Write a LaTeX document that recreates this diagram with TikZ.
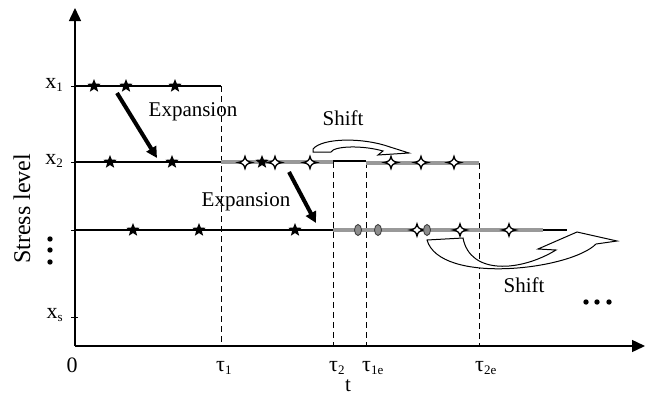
\documentclass[tikz,border=0pt]{standalone}
\usepackage{fontspec}
\setmainfont{Liberation Serif}
\usetikzlibrary{arrows.meta,shapes.geometric}
\tikzset{
  axis/.style={line width=1.4pt,-{Triangle[length=13pt,width=12pt]}},
  blk/.style={line width=2pt},
  gry/.style={line width=4pt,color=black!40},
  dsh/.style={line width=0.9pt,dash pattern=on 6pt off 4pt},
  exparrow/.style={line width=4pt,-{Triangle[length=11pt,width=11pt]}},
  starmk/.style={star,star points=5,star point ratio=2.3,fill=black,inner sep=0pt,minimum size=14pt},
  ellmk/.style={ellipse,draw=black!75,fill=black!45,line width=0.9pt,inner sep=0pt,minimum width=7pt,minimum height=11pt},
  shiftarrow/.style={draw,fill=white,line width=1pt,line join=miter},
  lbl/.style={font=\fontsize{21}{25}\selectfont,inner sep=0pt},
  slbl/.style={font=\fontsize{22}{26}\selectfont,inner sep=0pt},
  dmd/.pic={\draw[fill=white,line width=1.3pt] (-7,0) .. controls (-2.2,-0.9) and (-0.9,-2.2) .. (0,-6) .. controls (0.9,-2.2) and (2.2,-0.9) .. (7,0) .. controls (2.2,0.9) and (0.9,2.2) .. (0,6) .. controls (-0.9,2.2) and (-2.2,0.9) .. (-7,0) -- cycle;}
}
\newcommand{\sbs}[1]{\raisebox{-0.35ex}{\fontsize{13}{13}\selectfont #1}}
\begin{document}
\begin{tikzpicture}[x=1pt,y=-1pt]
\useasboundingbox (0,0) rectangle (645,399);
% coordinates
\coordinate (O) at (75,346);
\coordinate (ytop) at (75,8);
\coordinate (xend) at (645,346);
\coordinate (a1) at (75,86);   \coordinate (t1top) at (221,86);
\coordinate (a2) at (75,162);  \coordinate (t1mid) at (221,162);
\coordinate (t2top) at (333,162); \coordinate (b2s) at (333,161); \coordinate (b2e) at (366,161);
\coordinate (t1etop) at (366,162); \coordinate (t2etop) at (479,163);
\coordinate (a3) at (75,230); \coordinate (t2mid) at (333,230);
\coordinate (g3e) at (543,230); \coordinate (k3e) at (567,230);
\coordinate (t1b) at (221,346); \coordinate (t2b) at (333,346);
\coordinate (t1eb) at (366,346); \coordinate (t2eb) at (479,346);
\coordinate (tk1) at (71,86);  \coordinate (tk1e) at (78,86);
\coordinate (tk2) at (71,162); \coordinate (tk2e) at (78,162);
\coordinate (tk3) at (71,230); \coordinate (tk3e) at (78,230);
\coordinate (tks) at (71,317); \coordinate (tkse) at (78,317);

% dashed verticals
\draw[dsh] (t1top) -- (t1b);
\draw[dsh] (t2top) -- (t2b);
\draw[dsh] (t1etop) -- (t1eb);
\draw[dsh] (t2etop) -- (t2eb);

% level lines
\draw[blk] (a1) -- (t1top);
\draw[blk] (a2) -- (t1mid);
\draw[gry] (t1mid) -- (t2top);
\draw[blk] (b2s) -- (b2e);
\draw[gry] (t1etop |- t2etop) -- (t2etop);
\draw[blk] (a3) -- (t2mid);
\draw[gry] (t2mid) -- (g3e);
\draw[blk] (g3e) -- (k3e);

% axes
\draw[axis] (O) -- (ytop);
\draw[axis] (O) -- (xend);
\draw[line width=1pt] (tk1) -- (tk1e) (tk2) -- (tk2e) (tk3) -- (tk3e) (tks) -- (tkse);

% stars
\foreach \x in {94,126,175} \node[starmk] at (\x,86) {};
\foreach \x in {110,172,262} \node[starmk] at (\x,162) {};
\foreach \x in {133,199,295} \node[starmk] at (\x,230) {};

% diamonds
\foreach \x in {245,275,310,391,421,454} \pic at (\x,162.5) {dmd};
\foreach \x in {417,460,509} \pic at (\x,230) {dmd};

% ellipses
\foreach \x in {358,378,427} \node[ellmk] at (\x,230) {};

% expansion arrows
\coordinate (e1s) at (117,93); \coordinate (e1e) at (157,158);
\coordinate (e2s) at (289,172); \coordinate (e2e) at (316,223);
\draw[exparrow] (e1s) -- (e1e);
\draw[exparrow] (e2s) -- (e2e);
\node[lbl] (exp1) at (193,112) {Expansion};
\node[lbl] (exp2) at (246,202) {Expansion};

% shift arrows
\draw[shiftarrow] (313,149) .. controls (322,138) and (362,137) .. (390,147)
  -- (409,153) -- (378,155) -- (383,151)
  .. controls (362,145) and (334,146) .. (331,152) -- (313,152) -- cycle;
\node[lbl] (sh1) at (343,118) {Shift};

\draw[shiftarrow] (427,240) -- (463,238)
  .. controls (470,275) and (520,272) .. (556,250)
  -- (538,249) -- (577,232) -- (617,241) -- (596,244)
  .. controls (570,270) and (440,285) .. (427,240) -- cycle;
\node[lbl] (sh2) at (524,285) {Shift};

% dots
\foreach \y in {239,250,262} \fill (50,\y) circle (2.7);
\foreach \x in {586,597,609} \fill (\x,302) circle (2.7);

% labels
\node[slbl,anchor=east] (lx1) at (63,85) {x\sbs{1}};
\node[slbl,anchor=east] (lx2) at (63,161) {x\sbs{2}};
\node[slbl,anchor=east] (lxs) at (63,315) {x\sbs{s}};
\node[slbl] (l0) at (72,365) {0};
\node[slbl,anchor=west] (lt1) at (216,368) {τ\sbs{1}};
\node[slbl,anchor=west] (lt2) at (329,368) {τ\sbs{2}};
\node[slbl,anchor=west] (lt1e) at (362,368) {τ\sbs{1e}};
\node[slbl,anchor=west] (lt2e) at (475,368) {τ\sbs{2e}};
\node[lbl] (lt) at (348,386) {t};
\node[font=\fontsize{24}{28}\selectfont,inner sep=0pt,rotate=90] (ly) at (22,209) {Stress level};
\end{tikzpicture}
\end{document}
